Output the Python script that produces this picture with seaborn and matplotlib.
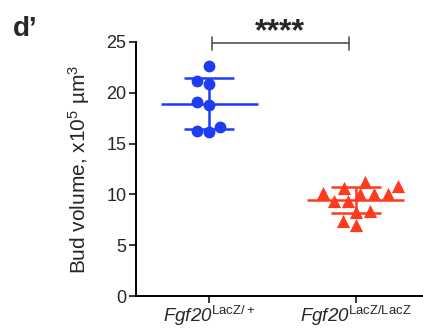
import numpy as np
import pandas as pd
import seaborn as sns
import matplotlib.pyplot as plt

sns.set_style("ticks")
plt.rcParams['font.family'] = ['Liberation Sans', 'DejaVu Sans']
plt.rcParams['mathtext.fontset'] = 'custom'
plt.rcParams['mathtext.rm'] = 'Liberation Sans'
plt.rcParams['mathtext.it'] = 'Liberation Sans:italic'

# bud volumes, x10^5 um^3
het_vals = [22.6, 21.2, 20.9, 19.1, 18.8, 16.6, 16.2, 16.1]
ko_vals = [10.8, 10.1, 10.0, 11.2, 9.35, 9.35, 10.0, 10.0, 10.6, 8.3, 8.4, 7.0, 7.4]
groups = ['LacZ/+', 'LacZ/LacZ']
tick_labels = [r'Fgf20$^{\mathrm{LacZ/+}}$', r'Fgf20$^{\mathrm{LacZ/LacZ}}$']
colors = ['#1f3cf5', '#ff3b1f']
markers = ['o', '^']

df = pd.DataFrame({
    'group': [groups[0]] * len(het_vals) + [groups[1]] * len(ko_vals),
    'volume': het_vals + ko_vals,
})

fig = plt.figure(figsize=(4.23, 3.30), dpi=100)
ax = fig.add_axes([0.3215, 0.103, 0.6785, 0.770])

for i, g in enumerate(groups):
    sub = df[df['group'] == g]
    sns.swarmplot(x='group', y='volume', data=sub, order=groups, ax=ax,
                  color=colors[i], marker=markers[i], size=8.5 if i == 0 else 9.5,
                  linewidth=0, zorder=3)
    m = sub['volume'].mean()
    sd = sub['volume'].std()
    # mean line, sd whisker with caps
    ax.hlines(m, i - 0.33, i + 0.33, color=colors[i], lw=1.8, zorder=2)
    ax.vlines(i, m - sd, m + sd, color=colors[i], lw=1.8, zorder=2)
    ax.hlines([m - sd, m + sd], i - 0.17, i + 0.17, color=colors[i], lw=1.8, zorder=2)

ax.set_xlim(-0.497, 1.456)
ax.set_ylim(0, 25)
ax.set_yticks([0, 5, 10, 15, 20, 25])
ax.set_xticks([0, 1])
ax.set_xticklabels(tick_labels, fontsize=13.5, fontstyle='italic')
ax.tick_params(axis='y', labelsize=13, length=5, width=1.3, pad=2)
ax.tick_params(axis='x', length=5, width=1.3, pad=1)
ax.set_xlabel('')
ax.set_ylabel(r'Bud volume, x10$^{5}$ µm$^{3}$', fontsize=15, labelpad=10)
sns.despine(ax=ax)
for s in ['left', 'bottom']:
    ax.spines[s].set_linewidth(1.4)
    ax.spines[s].set_color('black')

# significance bracket
ax.plot([0.02, 0.95], [24.9, 24.9], color='#555555', lw=1.2, clip_on=False)
ax.plot([0.02, 0.02], [24.2, 25.5], color='#555555', lw=1.2, clip_on=False)
ax.plot([0.95, 0.95], [24.2, 25.5], color='#555555', lw=1.2, clip_on=False)
ax.text(0.485, 25.15, '****', ha='center', va='baseline', fontsize=23,
        fontweight='bold', clip_on=False)

fig.text(0.03, 0.95, 'd\u2019', fontsize=20, fontweight='bold', ha='left', va='top')

plt.savefig('out.png', dpi=100)
